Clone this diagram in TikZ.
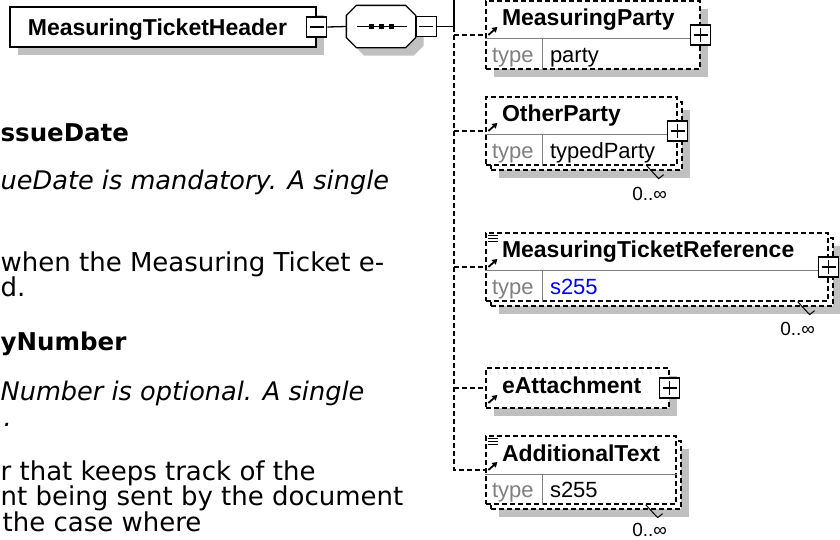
\documentclass[tikz,border=0pt]{standalone}
\usepackage{fontspec}
\setmainfont{DejaVu Sans}
\newfontfamily\xmlfont{Liberation Sans}
\usetikzlibrary{arrows.meta,positioning,calc,shadows}
\definecolor{shadowgray}{RGB}{192,192,192}
\definecolor{typegray}{RGB}{128,128,128}

\begin{document}
\begin{tikzpicture}[x=1pt,y=-1pt,line width=1.3pt,
  boxshadow/.style={drop shadow={shadow xshift=8pt,shadow yshift=-8pt,fill=shadowgray,opacity=1}},
  solidbox/.style={draw,fill=white,inner sep=0pt,line width=1.5pt},
  optbox/.style={draw,fill=white,inner sep=0pt,dash pattern=on 5pt off 3pt},
  optline/.style={dash pattern=on 5pt off 3pt},
  divider/.style={draw=typegray,line width=1pt,solid},
  plusbox/.style={draw,solid,fill=white,minimum size=20pt,inner sep=0pt,line width=1.4pt,
    path picture={\draw[line width=1.3pt] ([xshift=3pt]path picture bounding box.west) -- ([xshift=-3pt]path picture bounding box.east)
      ([yshift=-3pt]path picture bounding box.north) -- ([yshift=3pt]path picture bounding box.south);}},
  minusbox/.style={draw,solid,fill=white,minimum size=20pt,inner sep=0pt,line width=1.4pt,
    path picture={\draw[line width=1.3pt] ([xshift=3pt]path picture bounding box.west) -- ([xshift=-3pt]path picture bounding box.east);}},
  refarrow/.style={-{Triangle[length=5pt,width=6pt]},line width=1.8pt,solid},
  ename/.style={anchor=base west,inner sep=0pt,font=\xmlfont\bfseries\fontsize{23}{23}\selectfont},
  tkey/.style={anchor=base west,inner sep=0pt,text=typegray,font=\xmlfont\fontsize{22}{22}\selectfont},
  tval/.style={anchor=base west,inner sep=0pt,font=\xmlfont\fontsize{22}{22}\selectfont},
  count/.style={anchor=base east,inner sep=0pt,font=\xmlfont\fontsize{19}{19}\selectfont},
  dochead/.style={anchor=base west,inner sep=0pt,font=\bfseries\fontsize{24.5}{24.5}\selectfont},
  docit/.style={anchor=base west,inner sep=0pt,font=\itshape\fontsize{25.6}{25.6}\selectfont},
  doctext/.style={anchor=base west,inner sep=0pt,font=\fontsize{26}{26}\selectfont}]

\useasboundingbox (0,0) rectangle (840,539);
\clip (0,0) rectangle (840,539);

\node[dochead] (issuehead) at (0,141.5) {ssueDate};
\node[docit] (issuenote) at (0,189) {ueDate is mandatory. A single};
\node[doctext] (issuedesc) at (0,271) {when the Measuring Ticket e-};
\node[doctext] (issuedescb) at (0,296) {d.};
\node[dochead] (numhead) at (0,350) {yNumber};
\node[docit] (numnote) at (0,400) {Number is optional. A single};
\node[docit] (numnoteb) at (3,426) {.};
\node[doctext] (numdesc) at (0,480) {r that keeps track of the};
\node[doctext] (numdescb) at (0,505) {nt being sent by the document};
\node[doctext] (numdescc) at (2,531) {the case where};

\node[solidbox,boxshadow,minimum width=306pt,minimum height=40pt] (hdr) at (163,27) {};
\node[ename] (hdrname) at ($(hdr.west)+(18,8)$) {MeasuringTicketHeader};
\node[minusbox] (hdrminus) at (hdr.east) {};

\node[inner sep=0pt,minimum width=68pt,minimum height=41pt] (seq) at (381,26.5) {};
\draw[fill=white,boxshadow] ([xshift=10pt]seq.north west) -- ([xshift=-10pt]seq.north east) -- ([yshift=-10pt]seq.north east)
  -- ([yshift=10pt]seq.south east) -- ([xshift=-10pt]seq.south east) -- ([xshift=10pt]seq.south west)
  -- ([yshift=10pt]seq.south west) -- ([yshift=-10pt]seq.north west) -- cycle;
\draw ($(seq.center)+(-24,0)$) -- ($(seq.center)+(26,0)$);
\foreach \d in {-10,0,10}
  \fill ($(seq.center)+(\d-2.5,-2.5)$) rectangle +(5,5);
\node[minusbox,right=0pt of seq] (seqminus) {};

\node[optbox,boxshadow,minimum width=214pt,minimum height=68pt] (mp) at (593,35) {};
\draw[divider] ($(mp.north west)+(0,38)$) -- ($(mp.north east)+(0,38)$);
\draw[divider] ($(mp.north west)+(57,38)$) -- ($(mp.south west)+(57,0)$);
\node[ename] (mpname) at ($(mp.north west)+(16,25.5)$) {MeasuringParty};
\node[tkey] (mpkey) at ($(mp.south west)+(6,-7)$) {type};
\node[tval] (mpval) at ($(mp.south west)+(64,-7)$) {party};
\draw[refarrow] ($(mp.west)+(3,0)$) -- ($(mp.west)+(12,-8)$);
\node[plusbox] (mpplus) at (mp.east) {};

\node[optbox,boxshadow,minimum width=191pt,minimum height=68pt] (opback) at (586.5,136) {};
\node[optbox,minimum width=191pt,minimum height=68pt] (op) at (581.5,131) {};
\draw[divider] ($(op.north west)+(0,38)$) -- ($(op.north east)+(0,38)$);
\draw[divider] ($(op.north west)+(57,38)$) -- ($(op.south west)+(57,0)$);
\node[ename] (opname) at ($(op.north west)+(16,25.5)$) {OtherParty};
\node[tkey] (opkey) at ($(op.south west)+(6,-7)$) {type};
\node[tval] (opval) at ($(op.south west)+(64,-7)$) {typedParty};
\draw[refarrow] ($(op.west)+(3,0)$) -- ($(op.west)+(12,-8)$);
\node[plusbox] (opplus) at (op.east) {};
\draw[line width=1pt] ($(op.south east)+(-31,0)$) -- ++(12,13) -- ++(5,-4);
\node[count] (opcount) at ($(op.south east)+(-10,35)$) {0..∞};

\node[optbox,boxshadow,minimum width=342pt,minimum height=68pt] (mtrback) at (662,272) {};
\node[optbox,minimum width=342pt,minimum height=68pt] (mtr) at (657,267) {};
\draw[divider] ($(mtr.north west)+(0,38)$) -- ($(mtr.north east)+(0,38)$);
\draw[divider] ($(mtr.north west)+(57,38)$) -- ($(mtr.south west)+(57,0)$);
\draw[line width=1pt] ($(mtr.north west)+(3,3.5)$) -- ++(10,0) ++(-10,3) -- ++(10,0) ++(-10,3) -- ++(10,0);
\node[ename] (mtrname) at ($(mtr.north west)+(16,25.5)$) {MeasuringTicketReference};
\node[tkey] (mtrkey) at ($(mtr.south west)+(6,-7)$) {type};
\node[tval,text=blue] (mtrval) at ($(mtr.south west)+(64,-7)$) {s255};
\draw[refarrow] ($(mtr.west)+(3,0)$) -- ($(mtr.west)+(12,-8)$);
\node[plusbox] (mtrplus) at (mtr.east) {};
\draw[line width=1pt] ($(mtr.south east)+(-31,0)$) -- ++(12,13) -- ++(5,-4);
\node[count] (mtrcount) at ($(mtr.south east)+(-13,34)$) {0..∞};

\node[optbox,boxshadow,minimum width=183pt,minimum height=40pt] (eatt) at (577.5,388) {};
\node[ename] (eattname) at ($(eatt.north west)+(16,26)$) {eAttachment};
\draw[refarrow] ($(eatt.west)+(3,15)$) -- ($(eatt.west)+(12,7)$);
\node[plusbox] (eattplus) at (eatt.east) {};

\node[optbox,boxshadow,minimum width=190pt,minimum height=68pt] (atback) at (586,475) {};
\node[optbox,minimum width=190pt,minimum height=68pt] (at) at (581,470) {};
\draw[divider] ($(at.north west)+(0,39)$) -- ($(at.north east)+(0,39)$);
\draw[divider] ($(at.north west)+(57,39)$) -- ($(at.south west)+(57,0)$);
\draw[line width=1pt] ($(at.north west)+(3,3.5)$) -- ++(10,0) ++(-10,3) -- ++(10,0) ++(-10,3) -- ++(10,0);
\node[ename] (atname) at ($(at.north west)+(16,26)$) {AdditionalText};
\node[tkey] (atkey) at ($(at.south west)+(6,-7)$) {type};
\node[tval] (atval) at ($(at.south west)+(64,-7)$) {s255};
\draw[refarrow] ($(at.west)+(3,0)$) -- ($(at.west)+(12,-8)$);
\draw[line width=1pt] ($(at.south east)+(-31,0)$) -- ++(12,13) -- ++(5,-4);
\node[count] (atcount) at ($(at.south east)+(-9,32)$) {0..∞};

\coordinate (fork) at (454,26.5);
\coordinate (forktop) at (454,-2);
\draw (hdrminus.east) -- (seq.west);
\draw (seqminus.east) -- (fork) -- (forktop);
\draw[optline] (fork) |- (at.west);
\draw[optline] (mp.west -| fork) -- (mp.west);
\draw[optline] (op.west -| fork) -- (op.west);
\draw[optline] (mtr.west -| fork) -- (mtr.west);
\draw[optline] (eatt.west -| fork) -- (eatt.west);
\end{tikzpicture}
\end{document}
